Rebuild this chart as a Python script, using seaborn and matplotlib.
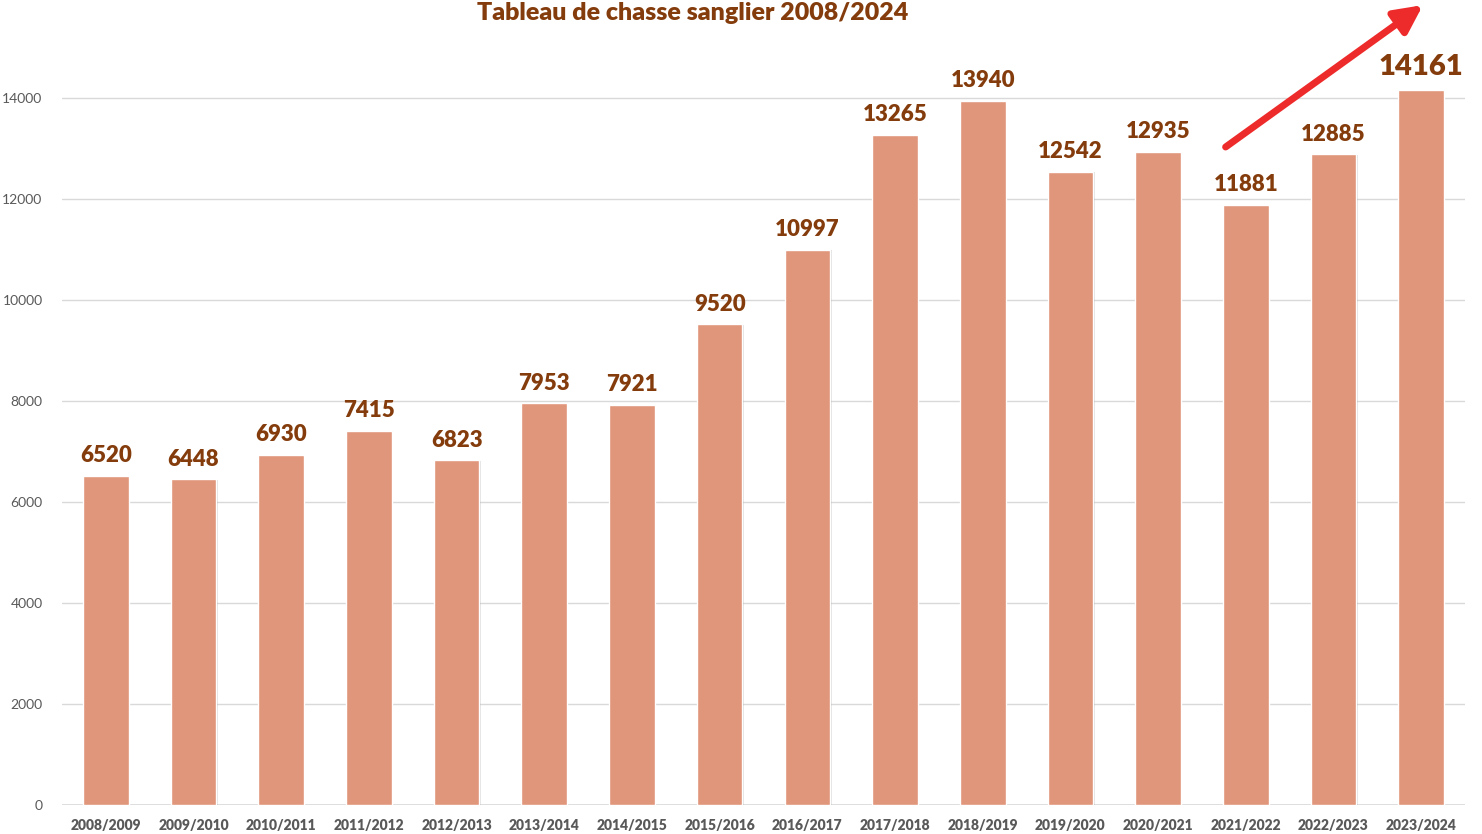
import matplotlib
matplotlib.use("Agg")
import matplotlib.pyplot as plt
import matplotlib.patheffects as pe
import pandas as pd
import seaborn as sns

# saisons et tableau de chasse
seasons = ["2008/2009", "2009/2010", "2010/2011", "2011/2012", "2012/2013",
           "2013/2014", "2014/2015", "2015/2016", "2016/2017", "2017/2018",
           "2018/2019", "2019/2020", "2020/2021", "2021/2022", "2022/2023",
           "2023/2024"]
kills = [6520, 6448, 6930, 7415, 6823, 7953, 7921, 9520, 10997, 13265,
         13940, 12542, 12935, 11881, 12885, 14161]
y_ticks = [0, 2000, 4000, 6000, 8000, 10000, 12000, 14000]

BAR = "#E0967A"
BROWN = "#843C0C"
GREY = "#595959"

sns.set_theme(style="white")
plt.rcParams['font.family'] = ['Lato', 'DejaVu Sans']

df = pd.DataFrame({"saison": seasons, "sangliers": kills})

fig = plt.figure(figsize=(14.82, 8.34), dpi=100)
ax = fig.add_axes([62 / 1482, 29 / 834, (1465 - 62) / 1482, 805 / 834])

sns.barplot(data=df, x="saison", y="sangliers", color=BAR, width=0.52,
            saturation=1, ax=ax, zorder=3)
for p in ax.patches:
    p.set_path_effects([pe.SimplePatchShadow(offset=(1, -0.5), alpha=0.18,
                                             shadow_rgbFace="#555555"),
                        pe.Normal()])

ax.set_xlim(-0.5, 15.5)
ax.set_ylim(0, 15941)
ax.set_yticks(y_ticks)
ax.grid(axis="y", color="#d9d9d9", linewidth=1, zorder=0)
for s in ax.spines.values():
    s.set_visible(False)
ax.axhline(0, color="#d9d9d9", linewidth=1.2, zorder=2)
ax.set_xlabel("")
ax.set_ylabel("")
ax.tick_params(axis="y", labelsize=10, labelcolor=GREY, length=0, pad=14)
ax.tick_params(axis="x", labelsize=10, labelcolor=GREY, length=0, pad=10)
for t in ax.get_xticklabels():
    t.set_fontweight("heavy")

for i, v in enumerate(kills):
    last = i == len(kills) - 1
    ax.annotate(str(v), (i, v), xytext=(0, 7), textcoords="offset points",
                ha="center", va="bottom", fontsize=21 if last else 16,
                fontweight="heavy", color=BROWN)

# fleche de tendance
ax.annotate("", xy=(15.02, 15840), xytext=(12.77, 13030),
            arrowprops=dict(arrowstyle="-|>,head_length=1.4,head_width=0.7",
                            color="#EE2B2B", lw=5, shrinkA=0, shrinkB=0),
            annotation_clip=False)

fig.text(693 / 1482, 1 - 20 / 834, "Tableau de chasse sanglier 2008/2024",
         ha="center", va="baseline", fontsize=18, fontweight="heavy", color=BROWN)

fig.savefig("out.png", dpi=100)
